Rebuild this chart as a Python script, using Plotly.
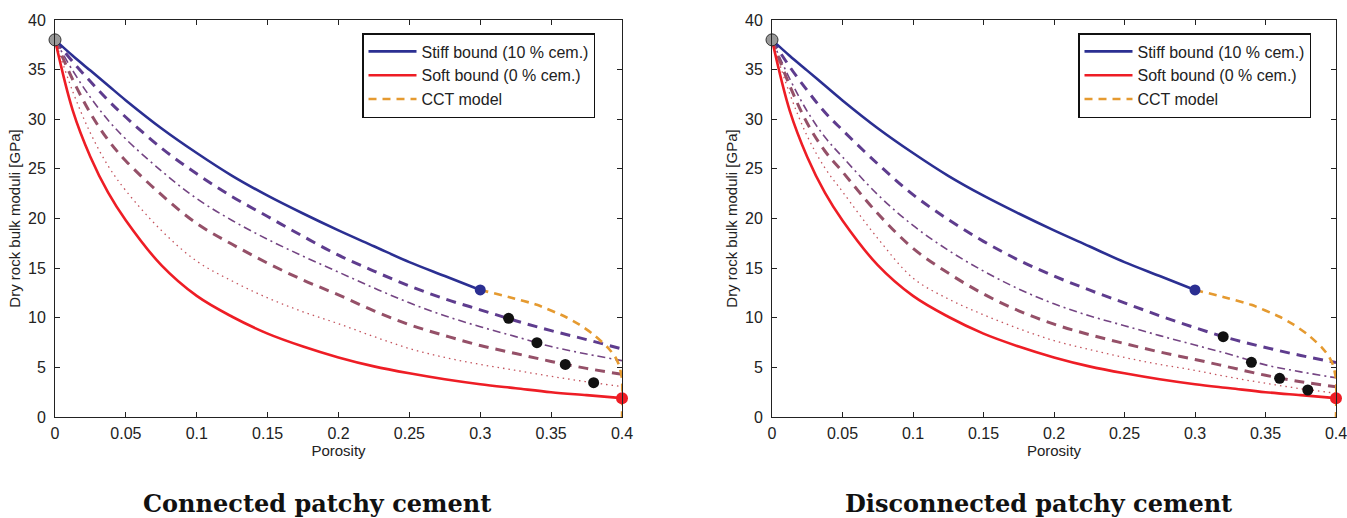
import plotly.graph_objects as go

# ---- data -----------------------------------------------------------------
# porosity grid used for the bound / patchy-cement curves
phi = [0, 0.0125, 0.025, 0.0375, 0.05, 0.075, 0.1, 0.125, 0.15, 0.175, 0.2,
       0.225, 0.25, 0.275, 0.3, 0.325, 0.35, 0.375, 0.4]
phi_stiff = phi[:15]

# dry rock bulk moduli [GPa]
k_stiff = [38, 36.4, 34.9, 33.4, 31.9, 29.1, 26.6, 24.3, 22.3, 20.5, 18.8, 17.2, 15.6, 14.2, 12.8]
k_soft = [38, 30.9, 26.2, 22.6, 19.8, 15.3, 12.2, 10.1, 8.4, 7.1, 6.0, 5.1, 4.4, 3.8, 3.3,
          2.9, 2.5, 2.2, 1.9]

phi_cct = [0.3, 0.32, 0.34, 0.36, 0.37, 0.38, 0.39, 0.395, 0.398, 0.4, 0.4]
k_cct = [12.8, 12.1, 11.3, 10.1, 9.3, 8.3, 7.0, 6.1, 5.2, 3.8, 0]

# connected patchy cement, from most to least cemented
conn_1 = [38, 35.8, 33.8, 31.9, 30.2, 27.1, 24.5, 22.2, 20.2, 18.2, 16.3, 14.7, 13.2, 11.9,
          10.8, 9.7, 8.7, 7.8, 6.85]
conn_2 = [38, 34.9, 32.2, 29.9, 28.0, 24.8, 22.0, 19.8, 17.9, 16.2, 14.6, 13.0, 11.5, 10.2,
          9.1, 8.1, 7.1, 6.35, 5.68]
conn_3 = [38, 34.0, 30.6, 27.9, 25.8, 22.4, 19.5, 17.4, 15.5, 13.8, 12.3, 10.7, 9.3, 8.2,
          7.2, 6.4, 5.6, 4.9, 4.3]
conn_4 = [38, 32.8, 28.6, 25.3, 22.8, 18.8, 15.7, 13.7, 12.0, 10.6, 9.4, 8.1, 6.9, 6.0,
          5.3, 4.7, 4.1, 3.55, 3.06]

# disconnected patchy cement, from most to least cemented
disc_1 = [38, 35.3, 32.9, 30.7, 28.9, 25.5, 22.4, 19.9, 17.7, 15.8, 14.2, 12.8, 11.5, 10.2,
          9.0, 7.9, 7.0, 6.2, 5.5]
disc_2 = [38, 34.1, 30.8, 28.2, 26.2, 22.4, 19.3, 16.8, 14.7, 12.9, 11.4, 10.2, 9.2, 8.2,
          7.25, 6.3, 5.25, 4.55, 3.95]
disc_3 = [38, 33.4, 29.6, 26.8, 24.7, 20.5, 17.0, 14.5, 12.4, 10.7, 9.35, 8.3, 7.4, 6.55,
          5.8, 5.0, 4.2, 3.55, 3.05]
disc_4 = [38, 32.6, 28.3, 25.1, 22.7, 18.0, 14.0, 11.9, 10.3, 8.9, 7.7, 6.8, 6.0, 5.3,
          4.7, 4.0, 3.4, 2.85, 2.4]

phi_pts = [0.32, 0.34, 0.36, 0.38]
k_pts_conn = [9.94, 7.49, 5.3, 3.46]
k_pts_disc = [8.09, 5.51, 3.9, 2.72]

phi_mineral, k_mineral = 0.0, 38.0
phi_stiff_end, k_stiff_end = 0.3, 12.8
phi_crit, k_crit = 0.4, 1.9

titles = ["Connected patchy cement", "Disconnected patchy cement"]

# ---- styling --------------------------------------------------------------
BLUE = "#2B2F92"
RED = "#EE1D25"
ORANGE = "#E59A30"
MIX = ["#5E3C8E", "#744483", "#955068", "#C4545E"]
DASHES = [("10px,7px", 3.0), ("8px,4px,2px,4px", 1.6), ("10px,7px", 3.0), ("1.5px,4px", 1.3)]
FONT = "Liberation Sans, Arial, Helvetica, sans-serif"

fig = go.Figure()

panels = [
    ("x", "y", "legend", [conn_1, conn_2, conn_3, conn_4], k_pts_conn),
    ("x2", "y2", "legend2", [disc_1, disc_2, disc_3, disc_4], k_pts_disc),
]

for xa, ya, lg, curves, k_pts in panels:
    for i, k in enumerate(curves):
        dash, w = DASHES[i]
        fig.add_trace(go.Scatter(
            x=phi, y=k, xaxis=xa, yaxis=ya, mode="lines", showlegend=False,
            line=dict(color=MIX[i], width=w, dash=dash, shape="spline"),
            hoverinfo="skip"))
    fig.add_trace(go.Scatter(
        x=phi_cct, y=k_cct, xaxis=xa, yaxis=ya, mode="lines", legend=lg,
        name="CCT model", legendrank=3, cliponaxis=False,
        line=dict(color=ORANGE, width=2.6, dash="8px,6px", shape="spline", smoothing=0.6)))
    fig.add_trace(go.Scatter(
        x=phi_stiff, y=k_stiff, xaxis=xa, yaxis=ya, mode="lines", legend=lg,
        name="Stiff bound (10 % cem.)", legendrank=1,
        line=dict(color=BLUE, width=2.6, shape="spline")))
    fig.add_trace(go.Scatter(
        x=phi, y=k_soft, xaxis=xa, yaxis=ya, mode="lines", legend=lg,
        name="Soft bound (0 % cem.)", legendrank=2,
        line=dict(color=RED, width=2.6, shape="spline")))
    fig.add_trace(go.Scatter(
        x=phi_pts, y=k_pts, xaxis=xa, yaxis=ya, mode="markers", showlegend=False,
        marker=dict(color="#111111", size=11), cliponaxis=False))
    fig.add_trace(go.Scatter(
        x=[phi_stiff_end], y=[k_stiff_end], xaxis=xa, yaxis=ya, mode="markers",
        showlegend=False, marker=dict(color=BLUE, size=11), cliponaxis=False))
    fig.add_trace(go.Scatter(
        x=[phi_crit], y=[k_crit], xaxis=xa, yaxis=ya, mode="markers",
        showlegend=False, marker=dict(color=RED, size=12), cliponaxis=False))
    fig.add_trace(go.Scatter(
        x=[phi_mineral], y=[k_mineral], xaxis=xa, yaxis=ya, mode="markers",
        showlegend=False, cliponaxis=False,
        marker=dict(color="#9A9A9A", size=12, line=dict(color="#333333", width=1))))

W, H = 1347, 518
doms_x = [(55 / W, 622 / W), (772 / W, 1336 / W)]
dom_y = ((518 - 417) / H, (518 - 20) / H)
title_x = [317 / W, 1038 / W]

axis_common = dict(
    showline=True, linecolor="#222222", linewidth=1, mirror="ticks",
    ticks="inside", ticklen=5, tickcolor="#222222", showgrid=False, zeroline=False,
    tickfont=dict(family=FONT, size=16, color="#222222"), automargin=False,
    ticklabeloverflow="allow",
)

layout = dict(
    width=W, height=H, margin=dict(l=0, r=0, t=0, b=0),
    paper_bgcolor="white", plot_bgcolor="white",
    font=dict(family=FONT, color="#222222"),
)
for dx, suffix in zip(doms_x, ["", "2"]):
    layout["xaxis" + suffix] = dict(
        axis_common, domain=list(dx), range=[0, 0.4], dtick=0.05, tick0=0,
        anchor="y" + suffix, ticklabelstandoff=2,
        title=dict(text="Porosity", font=dict(family=FONT, size=15), standoff=2))
    layout["yaxis" + suffix] = dict(
        axis_common, domain=list(dom_y), range=[0, 40], dtick=5, tick0=0,
        anchor="x" + suffix, ticklabelstandoff=5,
        title=dict(text="Dry rock bulk moduli [GPa]", font=dict(family=FONT, size=15), standoff=3))

legend_common = dict(
    xanchor="left", yanchor="top", bgcolor="white", bordercolor="#111111", borderwidth=1.5,
    font=dict(family=FONT, size=16, color="#222222"), traceorder="normal",
    itemwidth=48,
)
layout["legend"] = dict(legend_common, x=362 / W, y=(518 - 33) / H)
layout["legend2"] = dict(legend_common, x=1078 / W, y=(518 - 33) / H)

fig.update_layout(**layout)

for tx, t in zip(title_x, titles):
    fig.add_annotation(
        x=tx, y=(518 - 503) / H, xref="paper", yref="paper",
        text="<b>" + t + "</b>", showarrow=False, xanchor="center", yanchor="middle",
        font=dict(family="DejaVu Serif, serif", size=24, color="#111111"))

fig.write_html("out.html")
